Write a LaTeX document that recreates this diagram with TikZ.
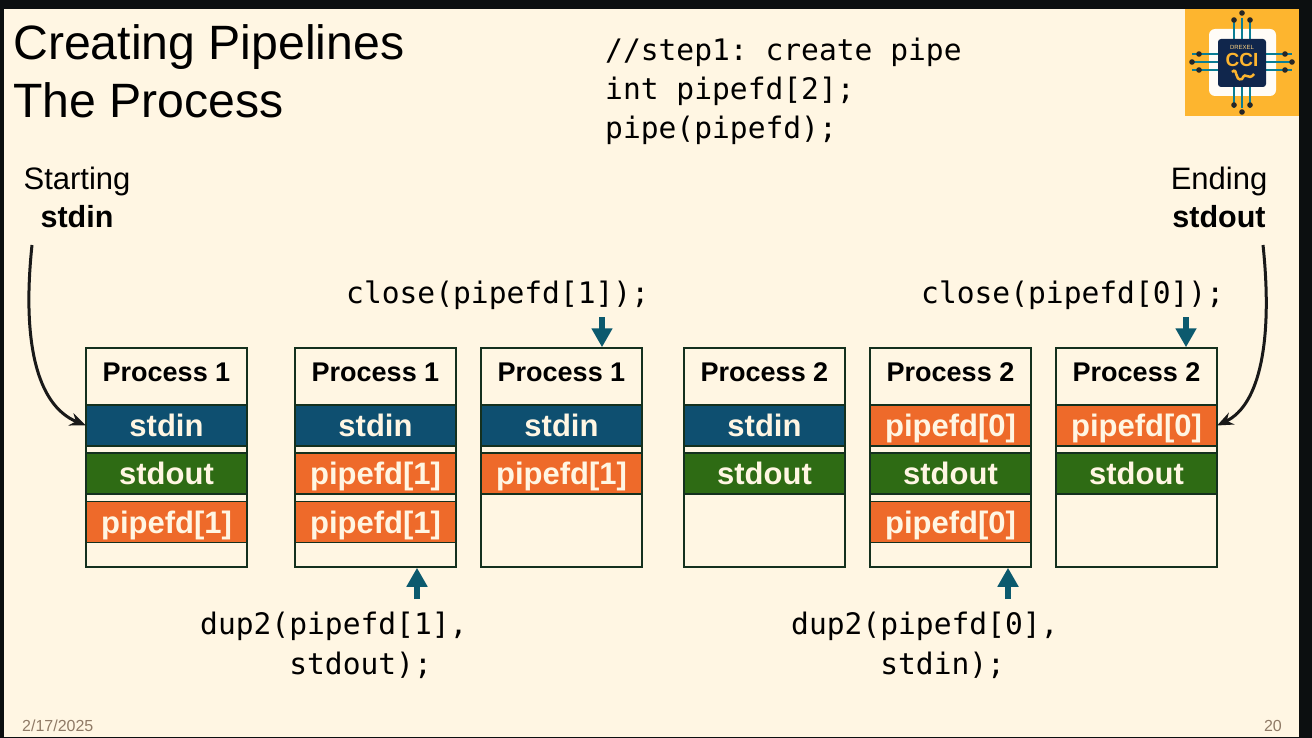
\documentclass[tikz,border=0pt]{standalone}
\usepackage{fontspec}
\setmainfont{Liberation Sans}
\setmonofont{DejaVu Sans Mono}
\usetikzlibrary{arrows.meta}
\definecolor{slidebg}{HTML}{FFF6E3}
\definecolor{framebg}{HTML}{0C0F10}
\definecolor{instd}{HTML}{0E4F70}
\definecolor{outstd}{HTML}{2E6B14}
\definecolor{pipefd}{HTML}{EE6A2A}
\definecolor{stepcol}{HTML}{0C5A6E}
\definecolor{edgecol}{HTML}{14301E}
\definecolor{logogold}{HTML}{FDB52F}
\definecolor{logonavy}{HTML}{10264C}
\definecolor{datecol}{HTML}{8F7A66}
\tikzset{
  procbox/.style={draw=edgecol,line width=1.5pt,minimum width=161pt,minimum height=219pt,inner sep=0pt},
  band/.style={draw=edgecol,line width=1.2pt,minimum width=160pt,minimum height=41pt,inner sep=0pt,
    text=slidebg,text height=22pt,text depth=0pt,font=\fontsize{31}{31}\selectfont\bfseries},
  inband/.style={band,fill=instd},
  outband/.style={band,fill=outstd},
  pipeband/.style={band,fill=pipefd},
  proctitle/.style={font=\fontsize{27}{27}\selectfont\bfseries,anchor=base},
  monotext/.style={font=\fontsize{29.6}{39.5}\selectfont\ttfamily,anchor=base west,inner sep=0pt,align=left},
  slidetitle/.style={font=\fontsize{48.2}{48.2}\selectfont,anchor=base west,inner sep=0pt},
  sidelabel/.style={font=\fontsize{31}{31}\selectfont,anchor=base,inner sep=0pt},
  sidebold/.style={font=\fontsize{30.5}{30.5}\selectfont\bfseries,anchor=base,inner sep=0pt},
  curvearrow/.style={line width=3pt,-{Stealth[length=16pt,width=13pt]},black!90},
  steparrow/.style={line width=6pt,-{Triangle[length=19pt,width=20pt]},stepcol},
  footer/.style={font=\fontsize{16}{16}\selectfont,text=datecol,anchor=base west,inner sep=0pt},
}
\begin{document}
\begin{tikzpicture}[x=1pt,y=-1pt]
  \useasboundingbox (0,0) rectangle (1312,738);
  % slide
  \fill[framebg] (0,0) rectangle (1312,738);
  \fill[slidebg] (4,9) rectangle (1299,737);
  % logo
  \fill[logogold] (1185,9) rectangle (1299,116);
  \fill[white!70!slidebg,rounded corners=6pt] (1209,29) rectangle (1276,96);
  \foreach \d in {-8,0,8} {
    \draw[logonavy!60!cyan,line width=1.2pt] (1242+\d,18) -- (1242+\d,108);
    \draw[logonavy!60!cyan,line width=1.2pt] (1192,62+\d) -- (1292,62+\d);
  }
  \foreach \d/\r in {-8/20,0/13,8/20} {
    \fill[black!85] (1242+\d,\r) circle (2.8pt);
    \fill[black!85] (1242+\d,125-\r) circle (2.8pt);
    \fill[black!85] (1179+\r,62+\d) circle (2.8pt);
    \fill[black!85] (1305-\r,62+\d) circle (2.8pt);
  }
  \fill[logonavy,rounded corners=3pt] (1218,39) rectangle (1266,87);
  \node[font=\fontsize{6}{6}\selectfont,text=logogold!60!white,inner sep=0pt] (logotop) at (1242,47) {DREXEL};
  \node[font=\fontsize{19}{19}\selectfont\bfseries,text=logogold,inner sep=0pt] (logocci) at (1242,60) {CCI};
  \draw[logogold,line width=2.5pt] (1232,72) .. controls (1238,66) and (1234,82) .. (1242,79)
    .. controls (1246,70) and (1248,82) .. (1254,74);
  % title and code
  \node[slidetitle] (title1) at (13,60) {Creating Pipelines};
  \node[slidetitle] (title2) at (13,118) {The Process};
  \node[monotext] (code1) at (605,61) {//step1: create pipe};
  \node[monotext] (code2) at (605,100) {int pipefd[2];};
  \node[monotext] (code3) at (605,139) {pipe(pipefd);};
  % side labels
  \node[sidelabel] (startlab) at (77,190) {Starting};
  \node[sidebold] (startin) at (77,228) {stdin};
  \node[sidelabel] (endlab) at (1219,190) {Ending};
  \node[sidebold] (endout) at (1219,228) {stdout};
  % process boxes
  \foreach \name/\x/\num in {a/166.5/1,b/375.5/1,c/561.5/1,d/764.5/2,e/950.5/2,f/1136.5/2} {
    \node[procbox] (\name) at (\x,457.5) {};
    \node[proctitle] (\name title) at (\x,381) {Process \num};
  }
  % bands
  \foreach \y/\row in {425.5/1,473.5/2,522/3} {
    \coordinate (row\row) at (0,\y);
  }
  \node[inband] (a1) at (a |- row1) {stdin};
  \node[outband] (a2) at (a |- row2) {stdout};
  \node[pipeband] (a3) at (a |- row3) {pipefd[1]};
  \node[inband] (b1) at (b |- row1) {stdin};
  \node[pipeband] (b2) at (b |- row2) {pipefd[1]};
  \node[pipeband] (b3) at (b |- row3) {pipefd[1]};
  \node[inband] (c1) at (c |- row1) {stdin};
  \node[pipeband] (c2) at (c |- row2) {pipefd[1]};
  \node[inband] (d1) at (d |- row1) {stdin};
  \node[outband] (d2) at (d |- row2) {stdout};
  \node[pipeband] (e1) at (e |- row1) {pipefd[0]};
  \node[outband] (e2) at (e |- row2) {stdout};
  \node[pipeband] (e3) at (e |- row3) {pipefd[0]};
  \node[pipeband] (f1) at (f |- row1) {pipefd[0]};
  \node[outband] (f2) at (f |- row2) {stdout};
  % call labels
  \node[monotext] (close1) at (346,303) {close(pipefd[1]);};
  \node[monotext] (close0) at (921,303) {close(pipefd[0]);};
  \node[monotext,anchor=north west] (dup1) at (200,612) {dup2(pipefd[1],\\\phantom{xxxxx}stdout);};
  \node[monotext,anchor=north west] (dup0) at (791,612) {dup2(pipefd[0],\\\phantom{xxxxx}stdin);};
  % free ends of the arrows
  \coordinate (s1) at (32,245);
  \coordinate (s2) at (1263,245);
  \coordinate (t1) at (602,317);
  \coordinate (t2) at (1186,317);
  \coordinate (t3) at (417,599);
  \coordinate (t4) at (1008,599);
  % arrows
  \draw[curvearrow] (s1) .. controls (22,340) and (36,405) .. (a1.west);
  \draw[curvearrow] (s2) .. controls (1273,340) and (1260,405) .. (f1.east);
  \draw[steparrow] (t1) -- (t1 |- c.north);
  \draw[steparrow] (t2) -- (t2 |- f.north);
  \draw[steparrow] (t3) -- (t3 |- b.south);
  \draw[steparrow] (t4) -- (t4 |- e.south);
  % footer
  \node[footer] (datelab) at (22,731) {2/17/2025};
  \node[footer,anchor=base east] (pagelab) at (1282,731) {20};
\end{tikzpicture}
\end{document}
